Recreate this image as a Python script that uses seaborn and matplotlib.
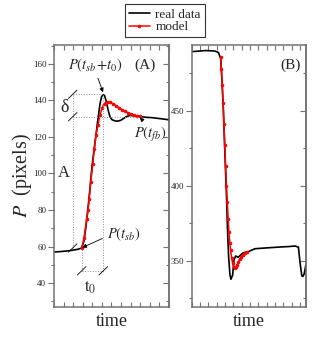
import numpy as np
import pandas as pd
import matplotlib
matplotlib.use("Agg")
import matplotlib.pyplot as plt
import seaborn as sns

# Panel A: onset of the jump (time in arbitrary units, P in pixels)
time_a_real = [0, 0.63, 1.25, 1.88, 2.51, 2.89, 3.13, 3.34, 3.55, 3.76, 3.97, 4.18, 4.38, 4.59, 4.80,
               4.96, 5.11, 5.27, 5.43, 5.64, 5.85, 6.05, 6.37, 6.68, 6.99, 7.31, 7.62, 7.93, 8.35,
               8.98, 9.60, 10.23, 10.86, 11.48, 12.0]
pos_a_real = [57.0, 57.2, 57.5, 57.9, 58.5, 59.2, 63, 71, 81, 92, 104, 113, 121, 130, 138,
              142, 143.2, 142.8, 140, 135, 131, 129.5, 128.8, 128.7, 129.2, 130.3, 131.3, 131.8, 131.6,
              131.2, 130.8, 130.6, 130.2, 129.8, 129.4]
time_a_model = [2.89, 3.13, 3.41, 3.55, 3.68, 3.83, 4.04, 4.21, 4.38, 4.59, 4.80, 5.01, 5.22, 5.43,
                5.67, 5.85, 6.16, 6.47, 6.78, 7.10, 7.41, 7.72, 8.04, 8.35, 8.66, 8.98]
pos_a_model = [59.2, 64.5, 75, 80, 86, 95.5, 105, 113.4, 121, 126.5, 132, 135.8, 138, 138.9,
               139.2, 139, 138.2, 137.2, 136, 135, 134.2, 133.3, 132.5, 131.9, 131.5, 131.3]

# Panel B: a downward jump
time_b_real = [0, 0.8, 1.6, 2.4, 2.8, 3.2, 3.46, 3.62, 3.77, 3.95, 4.18, 4.30, 4.42, 4.58, 4.70,
               4.90, 5.06, 5.27, 5.58, 5.90, 6.18, 6.78, 7.59, 8.40, 9.19, 10.0, 10.81, 11.6, 12.41,
               12.81, 13.01, 13.22, 13.35, 13.49, 13.7]
pos_b_real = [489.6, 489.9, 490.3, 490.1, 489.9, 489.0, 485, 470, 453, 425, 390.5, 368.5, 352.7, 340.4, 337.6,
              340.4, 350.5, 353.1, 352.3, 354, 355.3, 356, 358, 358.3, 358.6, 358.9, 359.2, 359.4, 359.8,
              359.0, 348.3, 339.8, 339.5, 341, 347]
time_b_model = [3.46, 3.56, 3.66, 3.76, 3.86, 3.96, 4.06, 4.16, 4.26, 4.36, 4.46, 4.56, 4.66, 4.78,
                4.90, 5.02, 5.14, 5.28, 5.42, 5.58, 5.74, 5.92, 6.12, 6.36, 6.62]
pos_b_model = [486, 478, 467, 455, 441, 427, 413, 400, 389, 378, 369, 362, 357, 352,
               348.5, 346, 345, 345.5, 347, 349, 350.8, 352.4, 353.8, 355, 355.8]

# key points used by the annotations of panel A
t_sb, t_peak, t_amp = 2.89, 5.15, 1.95
p_sb, p_peak, p_fb, p_low = 59.2, 143.4, 131.1, 46.7

sns.set_style("ticks")
plt.rcParams["font.family"] = ["Liberation Serif", "DejaVu Serif"]
plt.rcParams["mathtext.fontset"] = "stix"

fig = plt.figure(figsize=(3.14, 3.63), dpi=100)
ax_a = fig.add_axes([0.172, 0.154, 0.366, 0.722])
ax_b = fig.add_axes([0.611, 0.154, 0.363, 0.722])

sns.lineplot(x=time_a_real, y=pos_a_real, ax=ax_a, color="black", lw=1.2, label="real data", sort=False)
sns.lineplot(x=time_a_model, y=pos_a_model, ax=ax_a, color="red", lw=1.1, marker="o", ms=1.8,
             mec="red", label="model", sort=False)
sns.lineplot(x=time_b_real, y=pos_b_real, ax=ax_b, color="black", lw=1.2, sort=False)
sns.lineplot(x=time_b_model, y=pos_b_model, ax=ax_b, color="red", lw=1.1, marker="o", ms=1.8,
             mec="red", sort=False)

grey = "0.45"
for ax, xmax, ylim, major, minor in [(ax_a, 12, (26.8, 170.4), 20, 10),
                                     (ax_b, 13.7, (319, 494), 50, 25)]:
    ax.set_xlim(0, xmax)
    ax.set_ylim(*ylim)
    ax.set_xticks(np.arange(0, int(xmax) + 1))
    ax.set_xticklabels([])
    ax.yaxis.set_major_locator(plt.MultipleLocator(major))
    ax.yaxis.set_minor_locator(plt.MultipleLocator(minor))
    for sp in ax.spines.values():
        sp.set_visible(True)
        sp.set_color(grey)
        sp.set_linewidth(1.1)
    ax.tick_params(axis="x", direction="in", top=True, bottom=True, length=3.5, color=grey, width=0.8)
    ax.tick_params(axis="y", which="major", direction="out", right=False, length=4, color=grey,
                   width=0.8, labelsize=6.5, pad=1.5)
    ax.tick_params(axis="y", which="minor", direction="out", right=False, length=2.2, color=grey, width=0.8)
    sec = ax.secondary_yaxis("right")
    sec.yaxis.set_major_locator(plt.MultipleLocator(major))
    sec.yaxis.set_minor_locator(plt.MultipleLocator(minor))
    sec.spines["right"].set_color(grey)
    sec.spines["right"].set_linewidth(1.1)
    sec.tick_params(which="major", direction="in", length=4, color=grey, width=0.8, labelright=False)
    sec.tick_params(which="minor", direction="in", length=2.2, color=grey, width=0.8)
    ax.set_xlabel("time", fontsize=13, labelpad=1)
    ax.set_ylabel("")

ax_a.set_ylabel(r"$P$  (pixels)", fontsize=14.5)
ax_a.yaxis.set_label_coords(-0.172, 0.5)

# legend on top of both panels
handles, labels = ax_a.get_legend_handles_labels()
ax_a.get_legend().remove()
leg = fig.legend(handles, labels, loc="upper left", bbox_to_anchor=(0.398, 0.988), fontsize=9.5,
                 frameon=True, fancybox=False, edgecolor="black", handlelength=1.6,
                 handletextpad=0.4, borderpad=0.3, labelspacing=0.05, borderaxespad=0)
leg.get_frame().set_linewidth(0.8)

# panel labels
ax_a.text(9.5, 159.5, "(A)", fontsize=11, ha="center", va="center")
ax_b.text(11.9, 480.5, "(B)", fontsize=11, ha="center", va="center")

# dotted guide lines of panel A
dot = dict(color="0.55", lw=0.7, ls=":")
ax_a.plot([t_amp, t_amp], [p_sb, p_peak], **dot)
ax_a.plot([t_amp, t_peak], [p_peak, p_peak], **dot)
ax_a.plot([t_amp, 9.0], [p_fb, p_fb], **dot)
ax_a.plot([t_peak, t_peak], [p_low, p_peak], **dot)
ax_a.plot([t_sb, t_sb], [p_low, p_sb], **dot)
ax_a.plot([t_sb, t_peak], [p_low, p_low], **dot)

# slanted dimension marks
for mx, my in [(t_amp, p_peak), (t_amp, p_fb), (t_amp, p_sb), (t_sb, p_low), (t_peak, p_low)]:
    ax_a.plot([mx - 0.45, mx + 0.45], [my - 2.3, my + 2.3], color="black", lw=0.6)

ax_a.text(1.15, 135.9, "δ", fontsize=13, ha="center", va="center")
ax_a.text(0.98, 100.5, "A", fontsize=12, ha="center", va="center")
ax_a.text(3.76, 37.5, r"$\mathrm{t}_0$", fontsize=12, ha="center", va="center")

arrow = dict(arrowstyle="-|>", lw=0.6, color="black", mutation_scale=6, shrinkA=1, shrinkB=0)
ax_a.annotate(r"$P(t_{sb}\!+\!t_0)$", xy=(5.12, 144.5), xytext=(4.3, 159.5), fontsize=10.5,
              ha="center", va="center", arrowprops=dict(arrow, relpos=(0.52, 0.0)))
ax_a.annotate(r"$P(t_{fb})$", xy=(8.95, 130.6), xytext=(10.1, 121.5), fontsize=10.5,
              ha="center", va="center", arrowprops=dict(arrow, relpos=(0.4, 1.0)))
ax_a.annotate(r"$P(t_{sb})$", xy=(2.95, 59.4), xytext=(7.3, 66.5), fontsize=10.5,
              ha="center", va="center", arrowprops=dict(arrow, relpos=(0.0, 0.4)))

fig.savefig("out.png", dpi=100)
